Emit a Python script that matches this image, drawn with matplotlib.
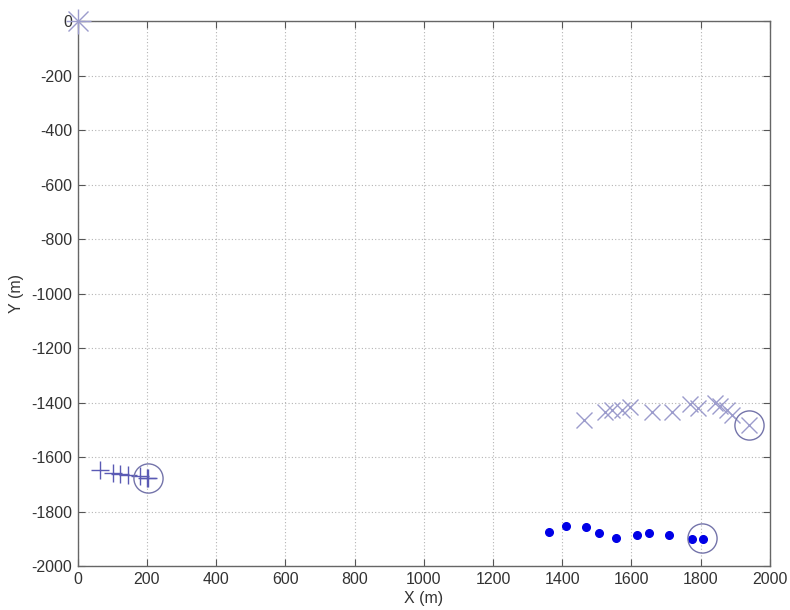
import matplotlib.pyplot as plt

plt.rcParams['font.family'] = ['Liberation Sans', 'DejaVu Sans']
plt.rcParams['axes.unicode_minus'] = False

# origin marker
origin_x = [0]
origin_y = [0]

# track 1 (x markers)
trk1_x = [1462, 1525, 1544, 1573, 1597, 1660, 1717, 1770, 1794, 1842, 1857, 1876, 1891, 1941]
trk1_y = [-1464, -1434, -1428, -1428, -1417, -1434, -1434, -1406, -1420, -1403, -1413, -1428, -1446, -1483]

# track 2 (plus markers)
trk2_x = [64, 103, 122, 146, 180, 199, 204]
trk2_y = [-1648, -1659, -1662, -1666, -1670, -1677, -1678]

# track 3 (dots)
trk3_x = [1361, 1412, 1469, 1506, 1557, 1615, 1650, 1710, 1775, 1806]
trk3_y = [-1874, -1852, -1857, -1880, -1896, -1886, -1880, -1886, -1902, -1902]

# end points (circles)
end_x = [1941, 204, 1804]
end_y = [-1483, -1678, -1898]

fig = plt.figure(figsize=(7.9, 6.1), dpi=100)
ax = fig.add_axes([0.0984, 0.0721, 0.876, 0.893])

c_light = '#9c9ccc'
c_plus = '#5a5ab4'
c_ring = '#7474aa'

ax.plot(origin_x, origin_y, ls='none', marker='x', ms=14, mew=1.0, color=c_light, clip_on=False, zorder=5)
ax.plot(origin_x, origin_y, ls='none', marker='+', ms=18, mew=1.0, color=c_light, clip_on=False, zorder=5)
ax.plot(trk1_x, trk1_y, ls='none', marker='x', ms=11, mew=1.0, color=c_light)
ax.plot(trk2_x, trk2_y, ls='none', marker='+', ms=13, mew=1.0, color=c_plus)
ax.plot(trk3_x, trk3_y, ls='none', marker='o', ms=5.5, color='#0000e6', mec='#0000e6')
ax.plot(end_x, end_y, ls='none', marker='o', ms=21, mew=1.0, mfc='none', mec=c_ring)

ax.set_xlim(0, 2000)
ax.set_ylim(-2000, 0)
ax.set_xticks(range(0, 2001, 200))
ax.set_yticks(range(-2000, 1, 200))
ax.grid(True, color='#b4b4b4', linestyle=(0, (1, 2)), linewidth=0.8)
ax.set_axisbelow(True)
ax.tick_params(direction='in', top=True, right=True, length=5, labelsize=11.5,
               color='#555555', labelcolor='#333333', pad=4)
for sp in ax.spines.values():
    sp.set_color('#666666')
    sp.set_linewidth(1.0)

ax.set_xlabel('X (m)', fontsize=11.5, color='#333333', labelpad=3)
ax.set_ylabel('Y (m)', fontsize=11.5, color='#333333', labelpad=5)

fig.savefig('out.png', dpi=100)
